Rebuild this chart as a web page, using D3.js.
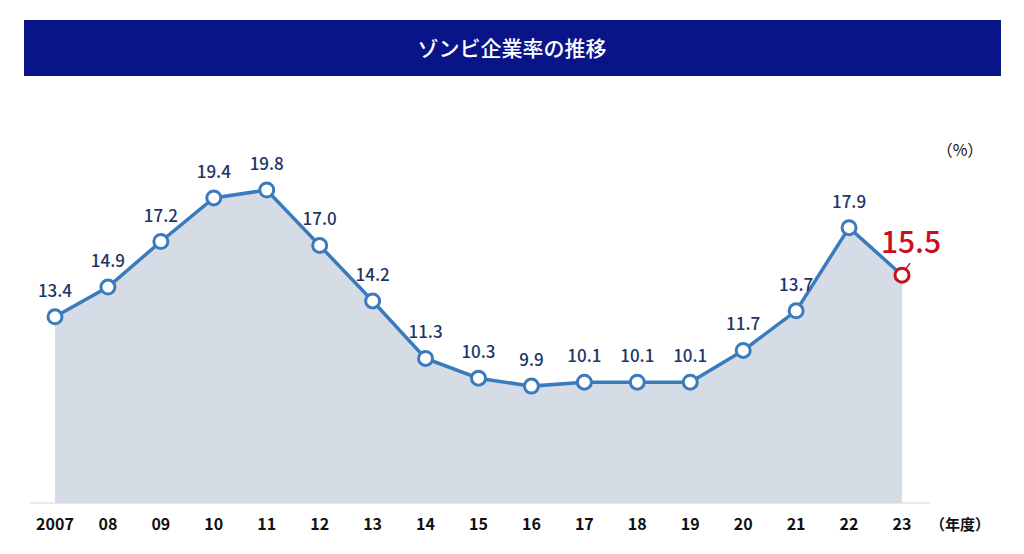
<!DOCTYPE html>
<html><head><meta charset="utf-8">
<script src="https://cdn.jsdelivr.net/npm/d3@7"></script>
<style>body{margin:0;background:#fff;font-family:"Noto Sans CJK JP","Noto Sans",sans-serif;}</style>
</head><body>
<svg id="chart" width="1024" height="554"></svg>
<script>
const years = ["2007","08","09","10","11","12","13","14","15","16","17","18","19","20","21","22","23"];
const rates = [13.4,14.9,17.2,19.4,19.8,17.0,14.2,11.3,10.3,9.9,10.1,10.1,10.1,11.7,13.7,17.9,15.5];

const svg = d3.select("#chart");

// Title bar
svg.append("rect").attr("x", 24).attr("y", 20).attr("width", 977).attr("height", 56).attr("fill", "#0a1489");
svg.append("text").attr("x", 512).attr("y", 56).attr("text-anchor", "middle")
  .attr("fill", "#fff").attr("font-size", 21).attr("font-weight", 500).text("ゾンビ企業率の推移");

const x = d3.scalePoint().domain(years).range([55, 902]);
const y = d3.scaleLinear().domain([4, 19.8]).range([503, 190]);
const pts = years.map((d, i) => ({ year: d, v: rates[i] }));

// baseline
svg.append("line").attr("x1", 30).attr("x2", 930).attr("y1", 503).attr("y2", 503)
  .attr("stroke", "#e3e3e3").attr("stroke-width", 1.5);

svg.append("path").datum(pts)
  .attr("d", d3.area().x(d => x(d.year)).y0(503).y1(d => y(d.v)))
  .attr("fill", "#d6dce6");

svg.append("path").datum(pts)
  .attr("d", d3.line().x(d => x(d.year)).y(d => y(d.v)))
  .attr("fill", "none").attr("stroke", "#3a7bbd").attr("stroke-width", 3.5);

const last = pts.length - 1;
svg.selectAll(".pt").data(pts).enter().append("circle")
  .attr("cx", d => x(d.year)).attr("cy", d => y(d.v)).attr("r", 7)
  .attr("fill", "#fff")
  .attr("stroke", (d, i) => i === last ? "#c8101e" : "#3a7bbd").attr("stroke-width", 3);

svg.selectAll(".lbl").data(pts.slice(0, last)).enter().append("text")
  .attr("x", d => x(d.year)).attr("y", d => y(d.v) - 20)
  .attr("text-anchor", "middle").attr("font-size", 17).attr("font-weight", 500)
  .attr("fill", "#1d3566").text(d => d.v.toFixed(1));

// highlighted last value
const lp = pts[last];
svg.append("line").attr("x1", x(lp.year) + 3).attr("y1", y(lp.v) - 5)
  .attr("x2", x(lp.year) + 8).attr("y2", y(lp.v) - 12).attr("stroke", "#c8101e").attr("stroke-width", 1.5);
svg.append("text").attr("x", x(lp.year) + 9).attr("y", y(lp.v) - 22)
  .attr("text-anchor", "middle").attr("font-size", 30).attr("font-weight", 500)
  .attr("fill", "#c8101e").text(lp.v.toFixed(1));

// x axis labels
svg.selectAll(".xl").data(years).enter().append("text")
  .attr("x", d => x(d)).attr("y", 530).attr("text-anchor", "middle")
  .attr("font-size", 16).attr("font-weight", 700).attr("fill", "#111").text(d => d);
svg.append("text").attr("x", 960).attr("y", 530).attr("text-anchor", "middle")
  .attr("font-size", 15).attr("font-weight", 700).attr("fill", "#111").text("（年度）");
svg.append("text").attr("x", 960).attr("y", 156).attr("text-anchor", "middle")
  .attr("font-size", 16).attr("fill", "#111").text("（%）");
</script>
</body></html>
